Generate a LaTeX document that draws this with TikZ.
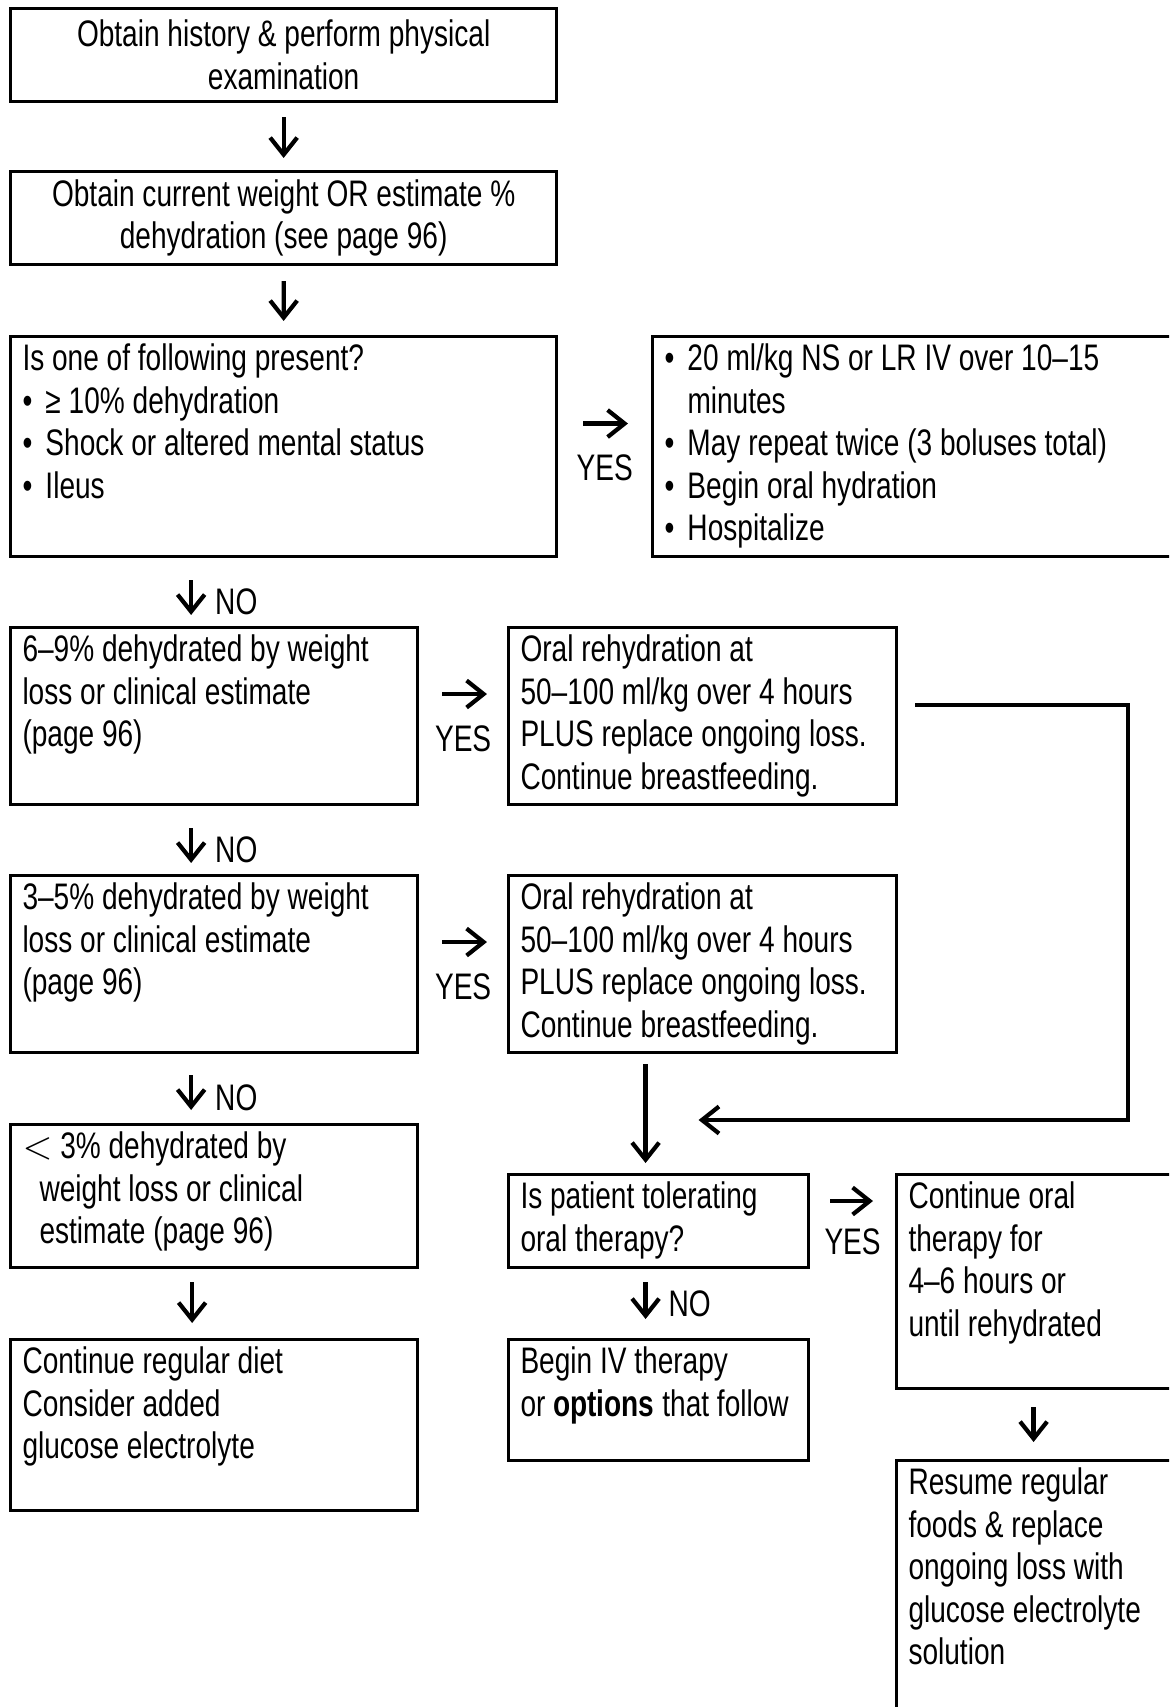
\documentclass[tikz,border=0pt]{standalone}
\usepackage{fontspec}
\setmainfont{Liberation Sans}[FakeStretch=0.76]
\usetikzlibrary{arrows.meta, calc}

\newcommand{\bulitem}{\makebox[0.23cm][l]{\textbullet}}

\begin{document}
\begin{tikzpicture}[x=0.01cm, y=-0.01cm,
  font=\fontsize{10.5}{12.1}\selectfont,
  cbox/.style={draw, line width=0.85pt, anchor=north west, align=center, inner sep=0},
  box/.style={draw, line width=0.85pt, anchor=north west, align=flush left,
    inner xsep=0.12cm, inner ysep=0.07cm, text height=0.27cm},
  arr/.style={line width=1.2pt, -{Straight Barb[length=1.7mm, width=2.7mm]},
    shorten <=0.14cm, shorten >=0.12cm},
  lbl/.style={inner sep=0}]
\useasboundingbox (0,0) rectangle (1169,1707);
\clip (0,0) rectangle (1169,1707);
% left column
\node[cbox, minimum width=5.46cm, minimum height=0.93cm] (hist) at (9,7)
  {Obtain history \& perform physical\\examination};
\node[cbox, minimum width=5.46cm, minimum height=0.93cm] (weight) at (9,170)
  {Obtain current weight OR estimate \%\\dehydration (see page 96)};
\node[box, text width=5.22cm, text depth=1.79cm] (severe) at (9,335)
  {Is one of following present?\\
   \bulitem≥ 10\% dehydration\\
   \bulitem Shock or altered mental status\\
   \bulitem Ileus};
\node[box, text width=3.83cm, text depth=1.36cm] (mod) at (9,626)
  {6–9\% dehydrated by weight\\loss or clinical estimate\\(page 96)};
\node[box, text width=3.83cm, text depth=1.36cm] (mild) at (9,874)
  {3–5\% dehydrated by weight\\loss or clinical estimate\\(page 96)};
\node[box, text width=3.83cm, text depth=1.02cm] (minimal) at (9,1123)
  {$<$ 3\% dehydrated by\\\hspace*{0.17cm}weight loss or clinical\\\hspace*{0.17cm}estimate (page 96)};
\node[box, text width=3.83cm, text depth=1.30cm] (diet) at (9,1338)
  {Continue regular diet\\Consider added\\glucose electrolyte};
% middle and right columns
\node[box, text width=5.36cm, text depth=1.79cm] (bolus) at (651,335)
  {\bulitem 20 ml/kg NS or LR IV over 10–15\\
   \hspace*{0.23cm}minutes\\
   \bulitem May repeat twice (3 boluses total)\\
   \bulitem Begin oral hydration\\
   \bulitem Hospitalize};
\node[box, text width=3.64cm, text depth=1.36cm] (modoral) at (507,626)
  {Oral rehydration at\\50–100 ml/kg over 4 hours\\PLUS replace ongoing loss.\\Continue breastfeeding.};
\node[box, text width=3.64cm, text depth=1.36cm] (mildoral) at (507,874)
  {Oral rehydration at\\50–100 ml/kg over 4 hours\\PLUS replace ongoing loss.\\Continue breastfeeding.};
\node[box, text width=2.76cm, text depth=0.52cm] (tol) at (507,1173)
  {Is patient tolerating\\oral therapy?};
\node[box, text width=2.76cm, text depth=0.80cm] (iv) at (507,1338)
  {Begin IV therapy\\or \textbf{options} that follow};
\node[box, text width=2.66cm, text depth=1.73cm] (contoral) at (895,1173)
  {Continue oral\\therapy for\\4–6 hours or\\until rehydrated};
\node[box, text width=2.66cm, text depth=2.19cm] (resume) at (895,1459)
  {Resume regular\\foods \& replace\\ongoing loss with\\glucose electrolyte\\solution};
% helper points
\coordinate (c1) at ($(mod.north)+(-23,0)$);
\coordinate (c2) at ($(mild.north)+(-23,0)$);
\coordinate (c3) at ($(minimal.north)+(-23,0)$);
\coordinate (c4) at ($(diet.north)+(-22,0)$);
\coordinate (c5) at ($(tol.north)+(-13,0)$);
\coordinate (c6) at ($(contoral.south)+(-8,0)$);
\coordinate (y1) at ($(severe.east)+(0,-23)$);
\coordinate (y2) at ($(mod.east)+(0,-22)$);
\coordinate (y3) at ($(mild.east)+(0,-22)$);
\coordinate (y4) at ($(tol.east)+(0,-20)$);
\coordinate (loopstart) at ($(modoral.east)+(0,-11)$);
\coordinate (loopcorner) at (1128,0);
\coordinate (loopend) at ($(c5)+(53,-53)$);
% down arrows
\draw[arr] (hist) -- (weight);
\draw[arr, shorten <=0.15cm, shorten >=0.14cm] (weight) -- (severe);
\draw[arr, shorten <=0.22cm, shorten >=0.11cm] (c1 |- severe.south) -- (c1)
  node[lbl, pos=0.65, right=0.22cm] (no1) {NO};
\draw[arr, shorten <=0.22cm, shorten >=0.11cm] (c2 |- mod.south) -- (c2)
  node[lbl, pos=0.65, right=0.22cm] (no2) {NO};
\draw[arr, shorten <=0.21cm, shorten >=0.13cm] (c3 |- mild.south) -- (c3)
  node[lbl, pos=0.64, right=0.22cm] (no3) {NO};
\draw[arr, shorten <=0.13cm, shorten >=0.15cm] (c4 |- minimal.south) -- (c4);
\draw[arr, shorten <=0.10cm, shorten >=0.10cm] (c5 |- mildoral.south) -- (c5);
\draw[arr, shorten <=0.13cm, shorten >=0.19cm] (c5 |- tol.south) -- (c5 |- iv.north)
  node[lbl, pos=0.5, right=0.21cm] (no4) {NO};
\draw[arr, shorten <=0.17cm, shorten >=0.17cm] (c6) -- (c6 |- resume.north);
% yes arrows
\draw[arr, shorten <=0.25cm, shorten >=0.23cm] (y1) -- (y1 -| bolus.west)
  node[lbl, midway, yshift=-0.44cm] (yes1) {YES};
\draw[arr, shorten <=0.23cm, shorten >=0.20cm] (y2) -- (y2 -| modoral.west)
  node[lbl, midway, yshift=-0.45cm] (yes2) {YES};
\draw[arr, shorten <=0.23cm, shorten >=0.20cm] (y3) -- (y3 -| mildoral.west)
  node[lbl, midway, yshift=-0.45cm] (yes3) {YES};
\draw[arr, shorten <=0.20cm, shorten >=0.22cm] (y4) -- (y4 -| contoral.west)
  node[lbl, midway, yshift=-0.41cm] (yes4) {YES};
% loop back from the 6-9% branch
\draw[arr, shorten <=0.17cm, shorten >=0cm] (loopstart) -- (loopstart -| loopcorner) |- (loopend);
\end{tikzpicture}
\end{document}
